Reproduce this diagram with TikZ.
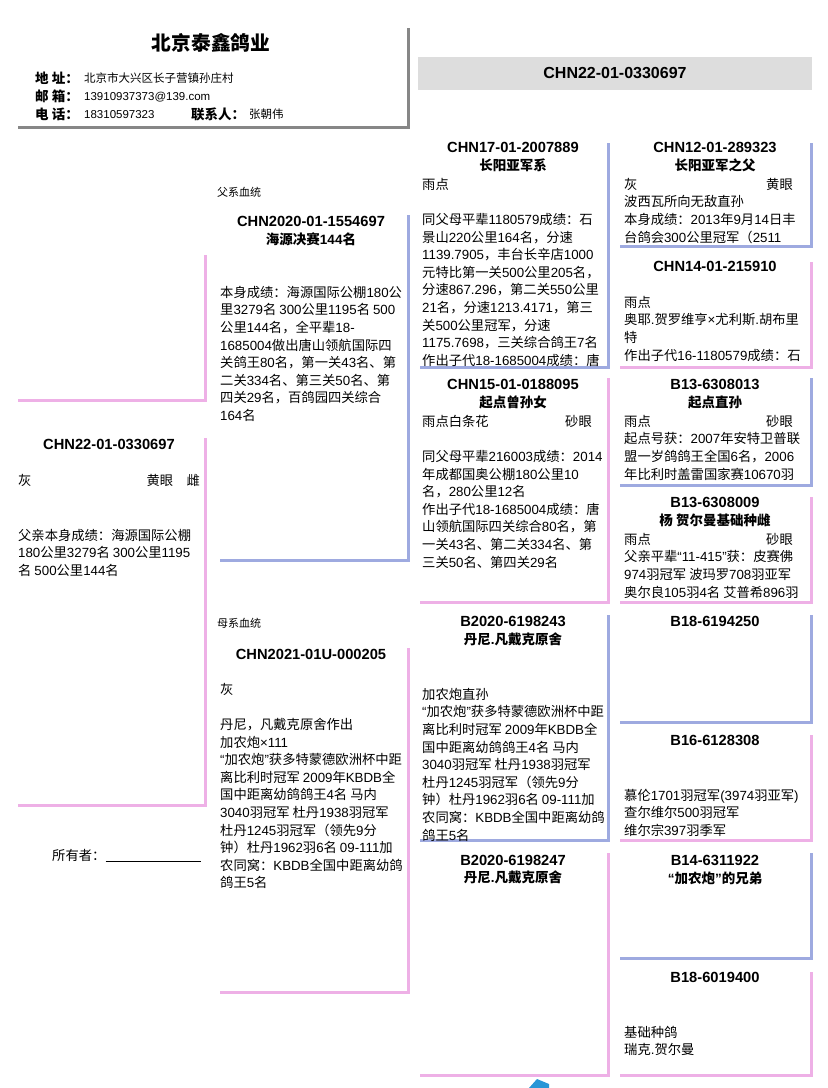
\documentclass[tikz,border=0pt]{standalone}
\usepackage{fontspec}
\setmainfont{Liberation Sans}
\newfontfamily\latfam{Liberation Sans}
\newfontfamily\cjkfam{Noto Sans CJK SC}
\newXeTeXintercharclass\cjkcls
\newcount\clsnum
\newcommand\cjkrange[2]{\clsnum=#1\relax
	\loop\XeTeXcharclass\clsnum=\cjkcls\relax
	\ifnum\clsnum<#2\relax\advance\clsnum by 1\relax\repeat}
\cjkrange{"3000}{"303F}
\cjkrange{"4E00}{"9FFF}
\cjkrange{"FF00}{"FFEF}
\XeTeXinterchartoks 0 \cjkcls = {\cjkfam}
\XeTeXinterchartoks 4095 \cjkcls = {\cjkfam}
\XeTeXinterchartoks \cjkcls 0 = {\latfam}
\XeTeXinterchartoks 4095 0 = {\latfam}
\definecolor{cockline}{RGB}{158,170,224}
\definecolor{henline}{RGB}{238,176,230}
\definecolor{barfill}{RGB}{221,221,221}
\definecolor{shadowline}{RGB}{135,135,135}
\definecolor{logoblue}{RGB}{40,150,215}
\tikzset{
	cockbox/.style={draw=cockline, line width=3pt},
	henbox/.style={draw=henline, line width=3pt},
	ringtxt/.style={font=\fontsize{14.7}{17}\selectfont\bfseries, anchor=base, inner sep=0},
	nametxt/.style={font=\fontsize{13.5}{16}\selectfont\bfseries, anchor=base, inner sep=0},
	notetxt/.style={font=\fontsize{13.3}{17.6}\selectfont, anchor=north west, align=left, inner sep=0},
	fieldtxt/.style={font=\fontsize{13.3}{17.6}\selectfont, anchor=base west, inner sep=0},
	eyetxt/.style={font=\fontsize{13.3}{17.6}\selectfont, anchor=base east, inner sep=0},
	sidetxt/.style={font=\fontsize{11}{13}\selectfont, anchor=base west, inner sep=0},
	titletxt/.style={font=\fontsize{19.7}{22}\selectfont\bfseries, anchor=base, inner sep=0},
	labeltxt/.style={font=\fontsize{13.5}{16}\selectfont\bfseries, anchor=base west, inner sep=0},
	valuetxt/.style={font=\fontsize{11.5}{14}\selectfont, anchor=base west, inner sep=0},
	bartxt/.style={font=\fontsize{16}{19}\selectfont\bfseries, anchor=base, inner sep=0},
}
\begin{document}
\XeTeXinterchartokenstate=1
\begin{tikzpicture}[x=1pt,y=-1pt]
	\useasboundingbox (0,0) rectangle (828,1088);
	\draw [shadowline, line width=3pt] (18,127) -- (408,127) -- (408,28);
	\node [titletxt] (kennel) at (211,50) {北京泰鑫鸽业};
	\node [labeltxt] (addrkey) at (35,83) {地 址：};
	\node [valuetxt] (addr) at (84,82.5) {北京市大兴区长子营镇孙庄村};
	\node [labeltxt] (mailkey) at (35,101) {邮 箱：};
	\node [valuetxt] (mail) at (84,100.5) {13910937373@139.com};
	\node [labeltxt] (telkey) at (35,119) {电 话：};
	\node [valuetxt] (tel) at (84,118.5) {18310597323};
	\node [labeltxt] (contactkey) at (191,119) {联系人：};
	\node [valuetxt] (contact) at (249,118.5) {张朝伟};
	\fill [barfill] (418,57) rectangle (812,90);
	\node [bartxt] (ringbar) at (615,78.7) {CHN22-01-0330697};

	\draw [henbox] (18,400) -- (205,400) -- (205,255);
	\draw [henbox] (18,805) -- (205,805) -- (205,438);
	\node [ringtxt] (self) at (109,449) {CHN22-01-0330697};
	\node [fieldtxt] (selfcolour) at (18,485) {灰};
	\node [eyetxt] (selfeye) at (200,485) {黄眼\quad 雌};
	\node [notetxt] (selfnote) at (18,527.7) {\strut 父亲本身成绩：海源国际公棚\\180公里3279名 300公里1195\\名 500公里144名};
	\node [fieldtxt] (owner) at (52,860.7) {所有者：};
	\draw [line width=0.8pt] ([yshift=-1pt]owner.base east) -- ++(95,0);

	\node [sidetxt] (sireside) at (217,196) {父系血统};
	\draw [cockbox] (220,560) -- (408,560) -- (408,215);
	\node [ringtxt] (sire) at (311,226) {CHN2020-01-1554697};
	\node [nametxt] (sirename) at (311,244) {海源决赛144名};
	\node [notetxt] (sirenote) at (220,284.7) {\strut 本身成绩：海源国际公棚180公\\里3279名 300公里1195名 500\\公里144名，全平辈18-\\1685004做出唐山领航国际四\\关鸽王80名，第一关43名、第\\二关334名、第三关50名、第\\四关29名，百鸽园四关综合\\164名};
	\node [sidetxt] (damside) at (217,627) {母系血统};
	\draw [henbox] (220,992) -- (408,992) -- (408,648);
	\node [ringtxt] (dam) at (311,659) {CHN2021-01U-000205};
	\node [notetxt] (damnote) at (220,681.7) {\strut 灰\\~\\丹尼，凡戴克原舍作出\\加农炮×111\\“加农炮”获多特蒙德欧洲杯中距\\离比利时冠军 2009年KBDB全\\国中距离幼鸽鸽王4名 马内\\3040羽冠军 杜丹1938羽冠军\\杜丹1245羽冠军（领先9分\\钟）杜丹1962羽6名 09-111加\\农同窝：KBDB全国中距离幼鸽\\鸽王5名};

	\draw [cockbox] (420,367) -- (608,367) -- (608,143);
	\node [ringtxt] (ss) at (513,152) {CHN17-01-2007889};
	\node [nametxt] (ssname) at (513,170) {长阳亚军系};
	\node [notetxt] (ssnote) at (422,176.7) {\strut 雨点\\~\\同父母平辈1180579成绩：石\\景山220公里164名，分速\\1139.7905，丰台长辛店1000\\元特比第一关500公里205名，\\分速867.296，第二关550公里\\21名，分速1213.4171，第三\\关500公里冠军，分速\\1175.7698，三关综合鸽王7名\\作出子代18-1685004成绩：唐};
	\draw [henbox] (420,602) -- (608,602) -- (608,378);
	\node [ringtxt] (sd) at (513,389) {CHN15-01-0188095};
	\node [nametxt] (sdname) at (513,407) {起点曾孙女};
	\node [eyetxt] (sdeye) at (592,426) {砂眼};
	\node [notetxt] (sdnote) at (422,413.7) {\strut 雨点白条花\\~\\同父母平辈216003成绩：2014\\年成都国奥公棚180公里10\\名，280公里12名\\作出子代18-1685004成绩：唐\\山领航国际四关综合80名，第\\一关43名、第二关334名、第\\三关50名、第四关29名};
	\draw [cockbox] (420,840) -- (608,840) -- (608,615);
	\node [ringtxt] (ds) at (513,626) {B2020-6198243};
	\node [nametxt] (dsname) at (513,644) {丹尼.凡戴克原舍};
	\node [notetxt] (dsnote) at (422,686.7) {\strut 加农炮直孙\\“加农炮”获多特蒙德欧洲杯中距\\离比利时冠军 2009年KBDB全\\国中距离幼鸽鸽王4名 马内\\3040羽冠军 杜丹1938羽冠军\\杜丹1245羽冠军（领先9分\\钟）杜丹1962羽6名 09-111加\\农同窝：KBDB全国中距离幼鸽\\鸽王5名};
	\draw [henbox] (420,1075) -- (608,1075) -- (608,853);
	\node [ringtxt] (dd) at (513,865) {B2020-6198247};
	\node [nametxt] (ddname) at (513,882) {丹尼.凡戴克原舍};

	\draw [cockbox] (620,246) -- (811,246) -- (811,143);
	\node [ringtxt] (sss) at (715,152) {CHN12-01-289323};
	\node [nametxt] (sssname) at (715,170) {长阳亚军之父};
	\node [eyetxt] (ssseye) at (793,189) {黄眼};
	\node [notetxt] (sssnote) at (624,176.7) {\strut 灰\\波西瓦所向无敌直孙\\本身成绩：2013年9月14日丰\\台鸽会300公里冠军（2511};
	\draw [henbox] (620,367) -- (811,367) -- (811,262);
	\node [ringtxt] (ssd) at (715,271) {CHN14-01-215910};
	\node [notetxt] (ssdnote) at (624,294.7) {\strut 雨点\\奥耶.贺罗维亨×尤利斯.胡布里\\特\\作出子代16-1180579成绩：石};
	\draw [cockbox] (620,485) -- (811,485) -- (811,378);
	\node [ringtxt] (sds) at (715,389) {B13-6308013};
	\node [nametxt] (sdsname) at (715,407) {起点直孙};
	\node [eyetxt] (sdseye) at (793,426) {砂眼};
	\node [notetxt] (sdsnote) at (624,413.7) {\strut 雨点\\起点号获：2007年安特卫普联\\盟一岁鸽鸽王全国6名，2006\\年比利时盖雷国家赛10670羽};
	\draw [henbox] (620,602) -- (811,602) -- (811,497);
	\node [ringtxt] (sdd) at (715,507) {B13-6308009};
	\node [nametxt] (sddname) at (715,525) {杨 贺尔曼基础种雌};
	\node [eyetxt] (sddeye) at (793,544) {砂眼};
	\node [notetxt] (sddnote) at (624,531.7) {\strut 雨点\\父亲平辈“11-415”获：皮赛佛\\974羽冠军 波玛罗708羽亚军\\奥尔良105羽4名 艾普希896羽};
	\draw [cockbox] (620,722) -- (811,722) -- (811,615);
	\node [ringtxt] (dss) at (715,626) {B18-6194250};
	\draw [henbox] (620,840) -- (811,840) -- (811,735);
	\node [ringtxt] (dsd) at (715,745) {B16-6128308};
	\node [notetxt] (dsdnote) at (624,787.7) {\strut 慕伦1701羽冠军(3974羽亚军)\\查尔维尔500羽冠军\\维尔宗397羽季军};
	\draw [cockbox] (620,958) -- (811,958) -- (811,853);
	\node [ringtxt] (dds) at (715,865) {B14-6311922};
	\node [nametxt] (ddsname) at (715,883) {“加农炮”的兄弟};
	\draw [henbox] (620,1075) -- (811,1075) -- (811,972);
	\node [ringtxt] (ddd) at (715,982) {B18-6019400};
	\node [notetxt] (dddnote) at (624,1024.7) {\strut 基础种鸽\\瑞克.贺尔曼};

	\fill [logoblue] (529,1088) -- (537,1079) -- (549,1084) -- (549,1088) -- cycle;
\end{tikzpicture}
\end{document}
